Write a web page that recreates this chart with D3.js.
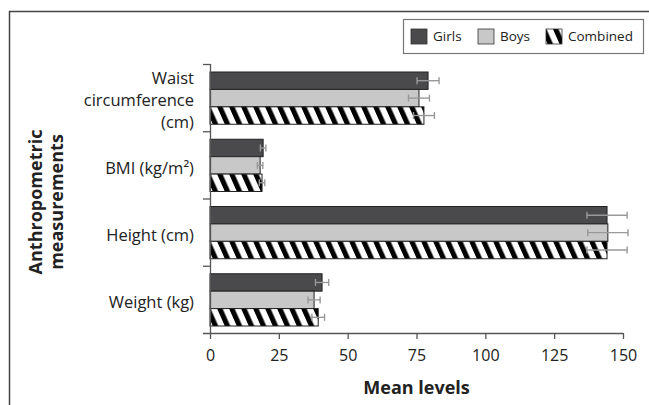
<!DOCTYPE html>
<html>
<head>
<meta charset="utf-8">
<script src="https://cdn.jsdelivr.net/npm/d3@7"></script>
<style>
  body { margin: 0; background: #fff; }
  svg text { font-family: "Open Sans", Lato, sans-serif; fill: #222; }
</style>
</head>
<body>
<div id="chart"></div>
<script>
const categories = ['Waist circumference (cm)', 'BMI (kg/m²)', 'Height (cm)', 'Weight (kg)'];
const series = ['Girls', 'Boys', 'Combined'];
const girls = [79.2, 19.3, 144.2, 40.7];
const boys = [75.9, 18.2, 144.5, 37.8];
const combined = [77.7, 18.9, 144.2, 39.3];
const girlsErr = [4.0, 1.0, 7.3, 2.4];
const boysErr = [3.8, 1.0, 7.3, 2.2];
const combinedErr = [3.8, 1.0, 7.3, 2.3];
const xTicks = [0, 25, 50, 75, 100, 125, 150];

const width = 649, height = 405;
const margin = {top: 64, right: 26, bottom: 72, left: 210};

const svg = d3.select('#chart').append('svg')
  .attr('width', width)
  .attr('height', height);

const defs = svg.append('defs');
const pat = defs.append('pattern')
  .attr('id', 'stripes')
  .attr('patternUnits', 'userSpaceOnUse')
  .attr('width', 12)
  .attr('height', 12)
  .attr('patternTransform', 'skewX(24)');
pat.append('rect').attr('width', 12).attr('height', 12).attr('fill', '#fff');
pat.append('rect').attr('width', 5.5).attr('height', 12).attr('fill', '#000');

const fills = {Girls: '#4a4a4c', Boys: '#c8c8c8', Combined: 'url(#stripes)'};

// frame
svg.append('path')
  .attr('d', `M9.5,${height} V11.5 H${width}`)
  .attr('fill', 'none')
  .attr('stroke', '#444')
  .attr('stroke-width', 1.5);

const graphWidth = width - margin.left - margin.right;
const graphHeight = height - margin.top - margin.bottom;

const g = svg.append('g')
  .attr('transform', `translate(${margin.left},${margin.top})`);

//
// Scales
//
const xScale = d3.scaleLinear().domain([0, 150]).range([0, 413]);
const yScale = d3.scaleBand().domain(categories).range([0, graphHeight]).paddingInner(0).paddingOuter(0);
const inner = d3.scaleBand().domain(series).range([8, yScale.bandwidth() - 7]).padding(0);

const rows = categories.map((c, i) => ({
  cat: c,
  values: [
    {s: 'Girls', v: girls[i], e: girlsErr[i]},
    {s: 'Boys', v: boys[i], e: boysErr[i]},
    {s: 'Combined', v: combined[i], e: combinedErr[i]}
  ]
}));

const groups = g.selectAll('.cat').data(rows).enter().append('g')
  .attr('class', 'cat')
  .attr('transform', d => `translate(0,${yScale(d.cat)})`);

groups.selectAll('rect').data(d => d.values).enter().append('rect')
  .attr('x', xScale(0))
  .attr('y', d => inner(d.s))
  .attr('width', d => xScale(d.v) - xScale(0))
  .attr('height', inner.bandwidth())
  .attr('fill', d => fills[d.s])
  .attr('stroke', '#222')
  .attr('stroke-width', 1);

// error bars
const err = groups.selectAll('.err').data(d => d.values).enter().append('g')
  .attr('class', 'err')
  .attr('stroke', '#999')
  .attr('stroke-width', 1.4);
err.append('line')
  .attr('x1', d => xScale(d.v - d.e)).attr('x2', d => xScale(d.v + d.e))
  .attr('y1', d => inner(d.s) + inner.bandwidth() / 2)
  .attr('y2', d => inner(d.s) + inner.bandwidth() / 2);
err.selectAll('.cap').data(d => [d.v - d.e, d.v + d.e].map(x => ({x, d}))).enter().append('line')
  .attr('x1', c => xScale(c.x)).attr('x2', c => xScale(c.x))
  .attr('y1', c => inner(c.d.s) + inner.bandwidth() / 2 - 3.5)
  .attr('y2', c => inner(c.d.s) + inner.bandwidth() / 2 + 3.5);

//
// Axes
//
const xAxis = g.append('g')
  .attr('transform', `translate(0,${graphHeight})`)
  .call(d3.axisBottom(xScale).tickValues(xTicks).tickSize(6).tickPadding(11).tickSizeOuter(0));
xAxis.select('.domain').attr('d', `M-7,0.5H${xScale(150)}`);
xAxis.selectAll('line, path').attr('stroke', '#555').attr('stroke-width', 1.3);
xAxis.selectAll('text').attr('font-size', 16).attr('fill', '#222').style('font-family', '"Open Sans", sans-serif');

// y axis: line with boundary ticks
const yAxis = g.append('g');
yAxis.append('line')
  .attr('x1', 0.5).attr('x2', 0.5).attr('y1', 0).attr('y2', graphHeight)
  .attr('stroke', '#555').attr('stroke-width', 1.3);
yAxis.selectAll('.yt').data(categories.map(c => yScale(c))).enter().append('line')
  .attr('x1', -7).attr('x2', 0)
  .attr('y1', d => d + 0.5).attr('y2', d => d + 0.5)
  .attr('stroke', '#555').attr('stroke-width', 1.3);

const labelLines = {
  'Waist circumference (cm)': ['Waist', 'circumference', '(cm)'],
  'BMI (kg/m²)': ['BMI (kg/m²)'],
  'Height (cm)': ['Height (cm)'],
  'Weight (kg)': ['Weight (kg)']
};
categories.forEach(c => {
  const lines = labelLines[c];
  const cy = yScale(c) + yScale.bandwidth() / 2 + 3;
  const t = g.append('text')
    .attr('text-anchor', 'end')
    .attr('font-size', 16.5)
    .attr('x', -16)
    .attr('y', cy - (lines.length - 1) * 11)
    .attr('dy', '0.35em');
  lines.forEach((l, i) => {
    t.append('tspan').attr('x', -16).attr('dy', i === 0 ? '0.35em' : 22).text(l);
  });
});

// axis titles
svg.append('text')
  .attr('x', margin.left + xScale(75))
  .attr('y', 394)
  .attr('text-anchor', 'middle')
  .attr('font-size', 18)
  .attr('font-weight', 'bold')
  .text('Mean levels');

const yt = svg.append('text')
  .attr('transform', 'translate(42,202) rotate(-90)')
  .attr('text-anchor', 'middle')
  .attr('font-size', 18)
  .attr('font-weight', 'bold');
yt.append('tspan').attr('x', 0).attr('y', 0).text('Anthropometric');
yt.append('tspan').attr('x', 0).attr('y', 21).text('measurements');

//
// Legend
//
const legend = svg.append('g');
legend.append('rect')
  .attr('x', 403.5).attr('y', 19.5).attr('width', 240).attr('height', 34)
  .attr('fill', '#fff').attr('stroke', '#777').attr('stroke-width', 1.2);
const legX = [411, 478, 546];
series.forEach((s, i) => {
  legend.append('rect')
    .attr('x', legX[i]).attr('y', 29).attr('width', 16).attr('height', 15)
    .attr('fill', fills[s]).attr('stroke', '#333').attr('stroke-width', 0.8);
  legend.append('text')
    .attr('x', legX[i] + 22).attr('y', 36.5).attr('dy', '0.35em')
    .attr('font-size', 13.5)
    .text(s);
});
</script>
</body>
</html>
